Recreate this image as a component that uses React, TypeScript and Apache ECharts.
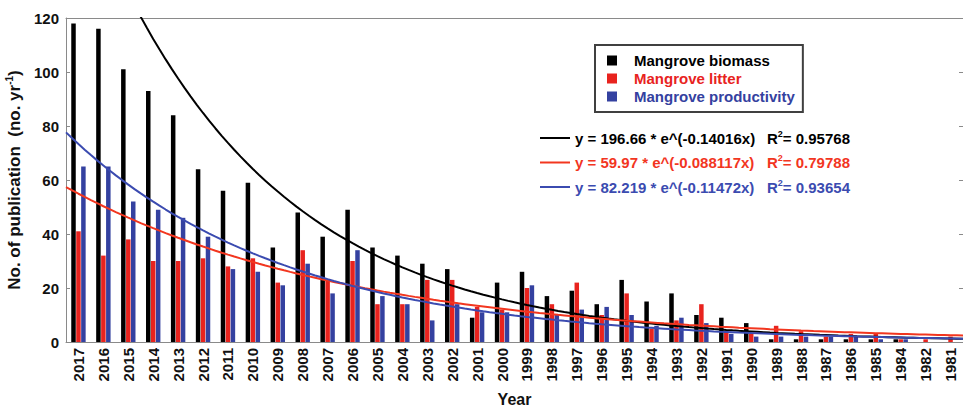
import React, { useEffect, useRef } from "react";
import * as echarts from "echarts";

const years = [
  "2017", "2016", "2015", "2014", "2013", "2012", "2011", "2010", "2009", "2008",
  "2007", "2006", "2005", "2004", "2003", "2002", "2001", "2000", "1999", "1998",
  "1997", "1996", "1995", "1994", "1993", "1992", "1991", "1990", "1989", "1988",
  "1987", "1986", "1985", "1984", "1982", "1981",
];
const biomass = [
  118, 116, 101, 93, 84, 64, 56, 59, 35, 48,
  39, 49, 35, 32, 29, 27, 9, 22, 26, 17,
  19, 14, 23, 15, 18, 10, 9, 7, 1, 1,
  1, 1, 1, 1, 0, 0,
];
const litter = [
  41, 32, 38, 30, 30, 31, 28, 31, 22, 34,
  23, 30, 14, 14, 23, 23, 13, 12, 20, 14,
  22, 10, 18, 5, 8, 14, 4, 3, 6, 4,
  2, 3, 3, 1, 1, 2,
];
const productivity = [
  65, 65, 52, 49, 46, 39, 27, 26, 21, 29,
  18, 34, 17, 14, 8, 14, 11, 11, 21, 10,
  12, 13, 10, 6, 9, 7, 3, 2, 2, 2,
  2, 2, 1, 1, 0, 0,
];
const seriesNames = ["Mangrove biomass", "Mangrove litter", "Mangrove productivity"];
const barColors = ["#000000", "#e8231e", "#3441a0"];
const fitColors = ["#000000", "#f2361f", "#3b4bb0"];
const fitA = [196.66, 59.97, 82.219];
const fitB = [-0.14016, -0.088117, -0.11472];
const fitLabels = [
  "y = 196.66 * e^(-0.14016x)",
  "y = 59.97 * e^(-0.088117x)",
  "y = 82.219 * e^(-0.11472x)",
];
const fitR2 = ["0.95768", "0.79788", "0.93654"];

const FONT = "'Liberation Sans', Arial, sans-serif";

export default function App() {
  const ref = useRef<HTMLDivElement>(null);
  useEffect(() => {
    if (!ref.current) return;
    const chart = echarts.init(ref.current, null, { renderer: "svg" });
    const n = years.length;
    const curves = fitA.map((a, k) => {
      const pts: number[][] = [];
      for (let t = 0.5; t <= n + 0.5 + 1e-9; t += 0.25) {
        pts.push([t, a * Math.exp(fitB[k] * t)]);
      }
      return pts;
    });
    const rich: any = {};
    fitColors.forEach((c, k) => {
      rich["e" + k] = { color: c, fontFamily: FONT, fontWeight: "bold", fontSize: 15, width: 192 };
      rich["r" + k] = { color: c, fontFamily: FONT, fontWeight: "bold", fontSize: 15 };
      rich["s" + k] = { color: c, fontFamily: FONT, fontWeight: "bold", fontSize: 9, padding: [0, 0, 9, 0] };
    });
    const gray = "#8a8a8a";
    const option: any = {
      animation: false,
      backgroundColor: "#ffffff",
      textStyle: { fontFamily: FONT },
      grid: { left: 66, right: 0, top: 18, bottom: 65, containLabel: false, outerBoundsMode: "none" },
      legend: [
        {
          data: seriesNames.map((nm, k) => ({ name: nm, textStyle: { color: barColors[k] } })),
          orient: "vertical",
          left: 595,
          top: 45,
          itemWidth: 10,
          itemHeight: 10,
          itemGap: 3,
          padding: [8, 8, 8, 12],
          borderColor: "#404040",
          borderWidth: 2,
          icon: "rect",
          textStyle: { fontFamily: FONT, fontWeight: "bold", fontSize: 15, padding: [0, 0, 0, 12] },
          selectedMode: false,
        },
        {
          data: fitLabels.map((nm) => ({ name: nm })),
          orient: "vertical",
          left: 540,
          top: 129,
          itemWidth: 30,
          itemHeight: 2,
          itemGap: 8,
          icon: "rect",
          padding: 0,
          selectedMode: false,
          formatter: (name: string) => {
            const k = fitLabels.indexOf(name);
            return `{e${k}|${name}}{r${k}|R}{s${k}|2}{r${k}|= ${fitR2[k]}}`;
          },
          textStyle: { fontFamily: FONT, fontWeight: "bold", fontSize: 15, rich },
        },
      ],
      xAxis: [
        {
          type: "category",
          data: years,
          position: "bottom",
          boundaryGap: true,
          axisLine: { lineStyle: { color: gray, width: 1 } },
          axisTick: { inside: true, length: 4, lineStyle: { color: gray } },
          axisLabel: {
            rotate: 90,
            interval: 0,
            color: "#111",
            fontFamily: FONT,
            fontWeight: "bold",
            fontSize: 15,
            margin: 6,
          },
          name: "Year",
          nameLocation: "middle",
          nameGap: 49,
          nameTextStyle: { color: "#111", fontFamily: FONT, fontWeight: "bold", fontSize: 16 },
        },
        {
          type: "value",
          min: 0.5,
          max: n + 0.5,
          show: false,
        },
        {
          type: "category",
          data: years,
          position: "top",
          boundaryGap: true,
          axisLine: { lineStyle: { color: gray, width: 1 } },
          axisTick: { inside: true, length: 4, lineStyle: { color: gray } },
          axisLabel: { show: false },
        },
      ],
      yAxis: [
        {
          type: "value",
          min: 0,
          max: 120,
          interval: 20,
          position: "left",
          splitLine: { show: false },
          axisLine: { show: true, lineStyle: { color: gray, width: 1 } },
          axisTick: { show: true, inside: true, length: 4, lineStyle: { color: gray } },
          axisLabel: { color: "#111", fontFamily: FONT, fontWeight: "bold", fontSize: 15, margin: 7 },
          name: "{a|No. of publication  (no. yr}{s|-1}{a|)}",
          nameLocation: "middle",
          nameGap: 36,
          nameTextStyle: {
            rich: {
              a: { color: "#111", fontFamily: FONT, fontWeight: "bold", fontSize: 17 },
              s: { color: "#111", fontFamily: FONT, fontWeight: "bold", fontSize: 10, padding: [0, 0, 10, 0] },
            },
          },
        },
        {
          type: "value",
          min: 0,
          max: 120,
          interval: 20,
          position: "right",
          splitLine: { show: false },
          axisLine: { show: true, lineStyle: { color: gray, width: 1 } },
          axisTick: { show: true, inside: true, length: 4, lineStyle: { color: gray } },
          axisLabel: { show: false },
        },
      ],
      series: [
        ...[biomass, litter, productivity].map((vals, k) => ({
          type: "bar",
          name: seriesNames[k],
          data: vals,
          xAxisIndex: 0,
          yAxisIndex: 0,
          barWidth: 4.5,
          barGap: "10%",
          itemStyle: { color: barColors[k] },
        })),
        ...curves.map((pts, k) => ({
          type: "line",
          name: fitLabels[k],
          data: pts,
          xAxisIndex: 1,
          yAxisIndex: 0,
          showSymbol: false,
          symbol: "none",
          smooth: false,
          clip: true,
          lineStyle: { color: fitColors[k], width: 2 },
          itemStyle: { color: fitColors[k] },
          z: 3,
        })),
      ],
    };
    chart.setOption(option);
    return () => chart.dispose();
  }, []);
  return (
    <div
      ref={ref}
      style={{ position: "fixed", left: 0, top: 0, width: 963, height: 407, background: "#fff" }}
    />
  );
}
